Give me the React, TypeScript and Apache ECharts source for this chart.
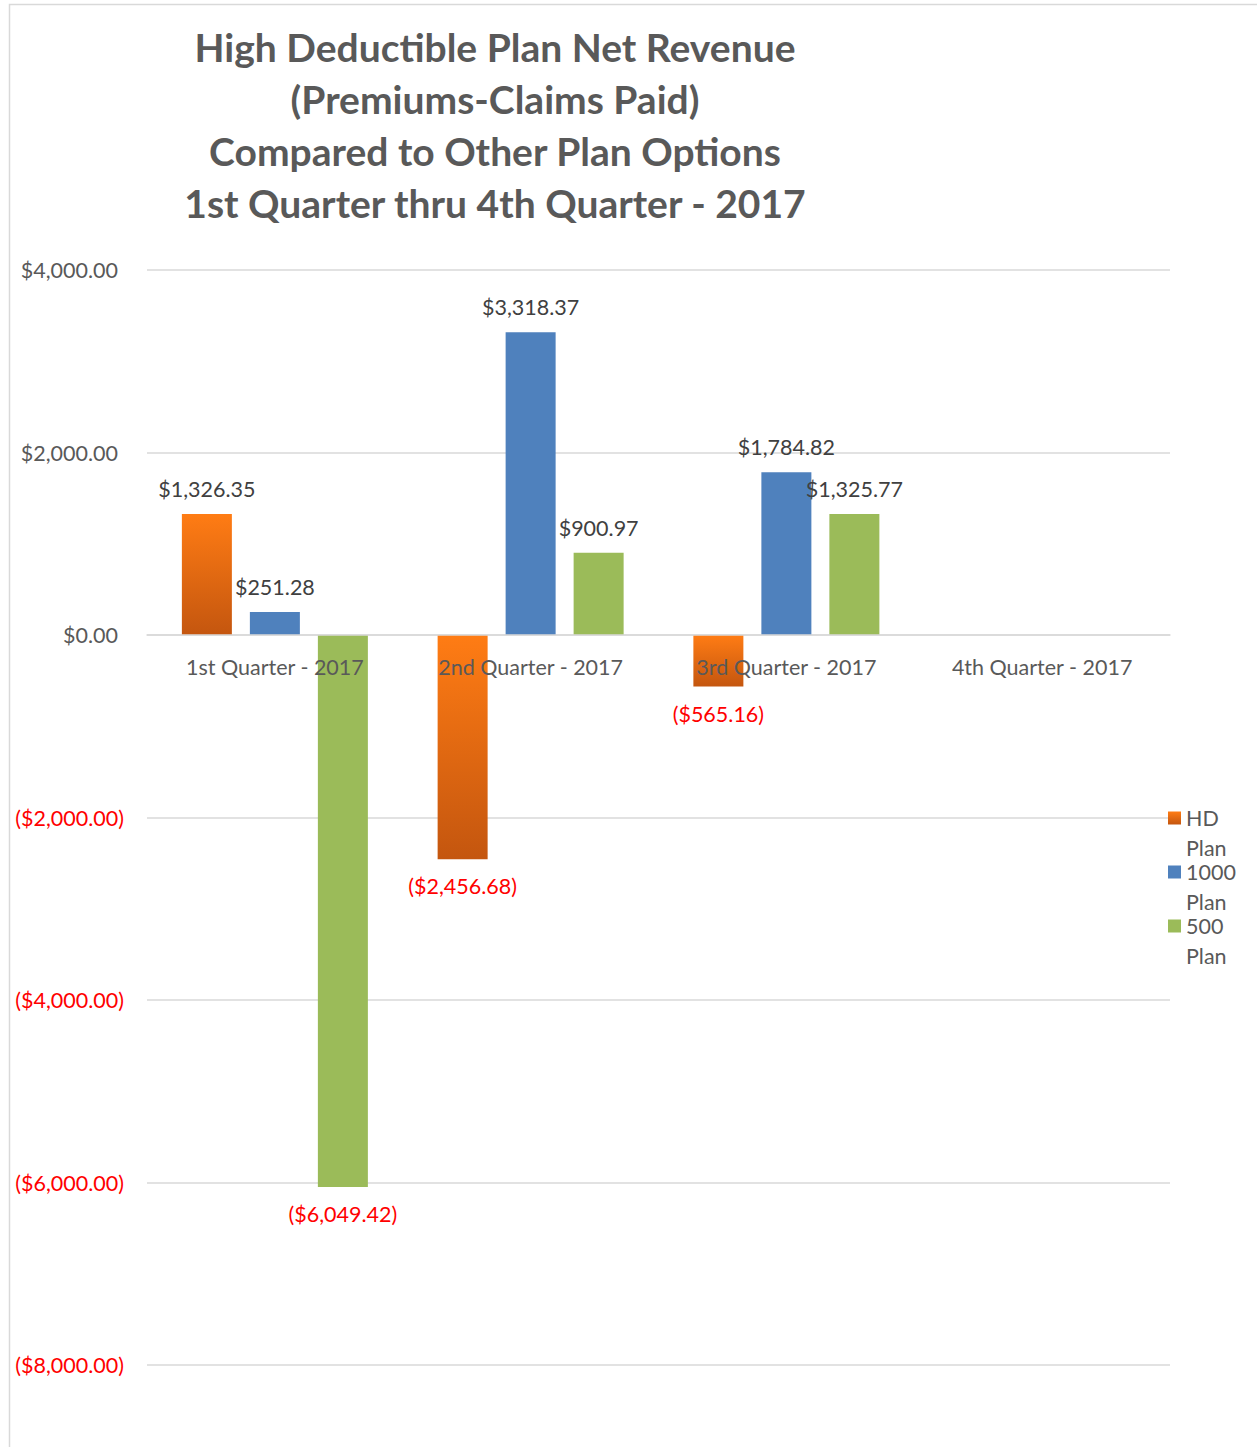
import React, { useEffect, useRef } from "react";
import * as echarts from "echarts";

const titleLines = [
  "High Deductible Plan Net Revenue",
  "(Premiums-Claims Paid)",
  "Compared to Other Plan Options",
  "1st Quarter thru 4th Quarter - 2017",
];
const categories = [
  "1st Quarter - 2017",
  "2nd Quarter - 2017",
  "3rd Quarter - 2017",
  "4th Quarter - 2017",
];
const seriesNames = ["HD Plan", "1000 Plan", "500 Plan"];
const hdPlan = [1326.35, -2456.68, -565.16, null];
const plan1000 = [251.28, 3318.37, 1784.82, null];
const plan500 = [-6049.42, 900.97, 1325.77, null];
const yMin = -8000;
const yMax = 4000;
const yStep = 2000;

const FONT = "Lato, 'Open Sans', sans-serif";
const FS = 21.5;

function money(v: number): string {
  const s = Math.abs(v).toLocaleString("en-US", {
    minimumFractionDigits: 2,
    maximumFractionDigits: 2,
  });
  return v < 0 ? `($${s})` : `$${s}`;
}

function makeData(vals: (number | null)[]) {
  return vals.map((v) =>
    v === null
      ? null
      : {
          value: v,
          label: {
            position: v < 0 ? "bottom" : "top",
            distance: v < 0 ? 16 : 14,
            color: v < 0 ? "#FF0000" : "#404040",
          },
        }
  );
}

export default function App() {
  const ref = useRef<HTMLDivElement>(null);
  useEffect(() => {
    if (!ref.current) return;
    const chart = echarts.init(ref.current, undefined, { renderer: "svg" });
    const orange = new echarts.graphic.LinearGradient(0, 0, 0, 1, [
      { offset: 0, color: "#FF7C14" },
      { offset: 1, color: "#C4560F" },
    ]);
    const colors = [orange, "#4F81BD", "#9BBB59"];
    const vals = [hdPlan, plan1000, plan500];
    const gridTop = 270;
    const gridBottom = 82;
    const option: any = {
      animation: false,
      backgroundColor: "#ffffff",
      title: {
        text: titleLines.join("\n"),
        left: 490,
        top: 16,
        textAlign: "center",
        textStyle: {
          fontFamily: FONT,
          fontWeight: "bold",
          fontSize: 39,
          lineHeight: 52,
          color: "#595959",
        },
      },
      graphic: [
        {
          type: "rect",
          shape: { x: 9.5, y: 4.5, width: 1400, height: 1600 },
          style: { fill: "none", stroke: "#d9d9d9", lineWidth: 1.5 },
          silent: true,
          z: -10,
        },
      ],
      legend: {
        orient: "vertical",
        left: 1168,
        top: 773,
        padding: 0,
        itemWidth: 13,
        itemHeight: 13,
        itemGap: -36,
        icon: "rect",
        data: seriesNames,
        formatter: (n: string) => "\u00a0\n" + n.replace(" ", "\n"),
        textStyle: {
          fontFamily: FONT,
          fontSize: FS,
          lineHeight: 30,
          color: "#595959",
        },
      },
      grid: { left: 147, right: 87, top: gridTop, bottom: gridBottom, containLabel: false },
      xAxis: {
        type: "category",
        data: categories,
        z: 5,
        offset: 0,
        axisLine: {
          show: true,
          onZero: false,
          lineStyle: { color: "#d9d9d9", width: 1.5 },
        },
        axisTick: { show: false },
        axisLabel: {
          fontFamily: FONT,
          fontSize: FS,
          color: "#595959",
          margin: 21,
        },
      },
      yAxis: {
        type: "value",
        min: yMin,
        max: yMax,
        interval: yStep,
        axisLine: { show: false },
        axisTick: { show: false },
        splitLine: { lineStyle: { color: "#d9d9d9", width: 1.5 } },
        axisLabel: {
          margin: 23,
          formatter: (v: number) =>
            v < 0 ? `{n|${money(v)}}` : `{p|${money(v)}}`,
          rich: {
            n: { fontFamily: FONT, fontSize: FS, color: "#FF0000" },
            p: {
              fontFamily: FONT,
              fontSize: FS,
              color: "#595959",
              padding: [0, 6, 0, 0],
            },
          },
        },
      },
      series: vals.map((v, i) => ({
        name: seriesNames[i],
        type: "bar",
        barWidth: 50,
        barGap: "36%",
        itemStyle: { color: colors[i] },
        label: {
          show: true,
          fontFamily: FONT,
          fontSize: FS,
          formatter: (p: any) => money(p.value),
        },
        data: makeData(v),
      })),
    };
    chart.setOption(option);
    // move the category axis onto the zero line using the library's own scale
    const zeroPx = chart.convertToPixel({ yAxisIndex: 0 }, 0) as number;
    const minPx = chart.convertToPixel({ yAxisIndex: 0 }, yMin) as number;
    if (typeof zeroPx === "number" && typeof minPx === "number") {
      chart.setOption({ xAxis: { offset: -(minPx - zeroPx) } });
    }
    return () => chart.dispose();
  }, []);
  return (
    <div
      ref={ref}
      style={{ position: "absolute", left: 0, top: 0, width: 1257, height: 1447 }}
    />
  );
}
